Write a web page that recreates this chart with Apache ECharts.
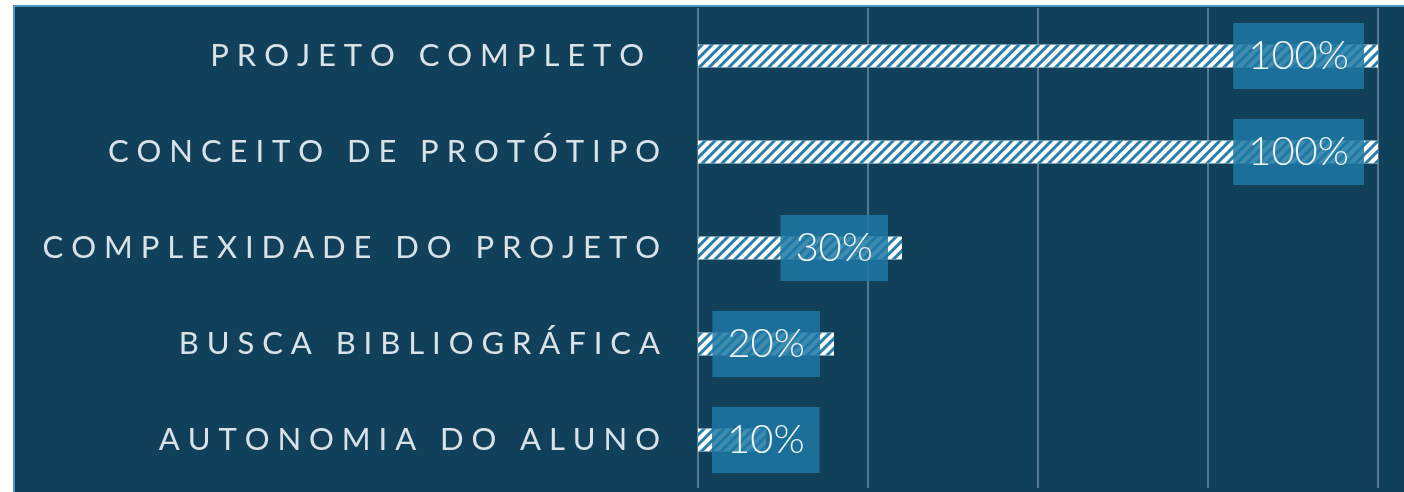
<!DOCTYPE html>
<html>
<head>
<meta charset="utf-8">
<script src="https://cdn.jsdelivr.net/npm/echarts@6/dist/echarts.min.js"></script>
<style>
  html, body { margin: 0; padding: 0; background: #fff; }
  #wrap { position: relative; width: 1404px; height: 492px; background: #fff; overflow: hidden; }
  #chart {
    position: absolute; left: 13px; top: 5px; width: 1391px; height: 487px;
    border-left: 2px solid #4f97c0; border-top: 2px solid #4f97c0;
  }
</style>
</head>
<body>
<div id="wrap"><div id="chart"></div></div>
<script>
// categorias de cima para baixo
const categories = [
  'PROJETO COMPLETO ',
  'CONCEITO DE PROTÓTIPO',
  'COMPLEXIDADE DO PROJETO',
  'BUSCA BIBLIOGRÁFICA',
  'AUTONOMIA DO ALUNO'
]
const values = [100, 100, 30, 20, 10]
const xTicks = [0, 25, 50, 75, 100]

// espaçamento entre letras (canvas não tem letter-spacing)
const spaced = s => s.split('').join(' ')

const chart = echarts.init(document.getElementById('chart'))
chart.setOption({
  backgroundColor: '#11405a',
  animation: false,
  grid: { left: 683, right: 28, top: 1, height: 480, outerBoundsMode: 'none' },
  xAxis: {
    type: 'value',
    min: xTicks[0],
    max: xTicks[xTicks.length - 1],
    interval: xTicks[1] - xTicks[0],
    axisLabel: { show: false },
    axisLine: { show: false },
    axisTick: { show: false },
    splitLine: { show: true, lineStyle: { color: '#557a8f', width: 2 } }
  },
  yAxis: {
    type: 'category',
    inverse: true,
    data: categories,
    axisLine: { show: false },
    axisTick: { show: false },
    axisLabel: {
      margin: 38,
      color: '#d8e2e8',
      fontFamily: 'Lato',
      fontSize: 31,
      formatter: v => spaced(v)
    }
  },
  series: [
    {
      type: 'bar',
      barWidth: 23,
      data: values.map((v, i) => i === values.length - 1
        ? { value: v, label: { position: 'insideLeft', distance: 14 } }
        : v),
      itemStyle: {
        color: '#ffffff',
        decal: {
          symbol: 'rect',
          symbolSize: 1,
          color: '#2a7eaa',
          dashArrayX: [1, 0],
          dashArrayY: [3, 4],
          rotation: -Math.PI / 4
        }
      },
      label: {
        show: true,
        position: 'insideRight',
        distance: 14,
        formatter: '{c}%',
        color: '#eef4f7',
        fontFamily: 'Lato',
        fontWeight: 300,
        fontSize: 40,
        lineHeight: 40,
        padding: [13, 15],
        backgroundColor: 'rgba(29,120,163,0.85)'
      }
    }
  ]
})
</script>
</body>
</html>
